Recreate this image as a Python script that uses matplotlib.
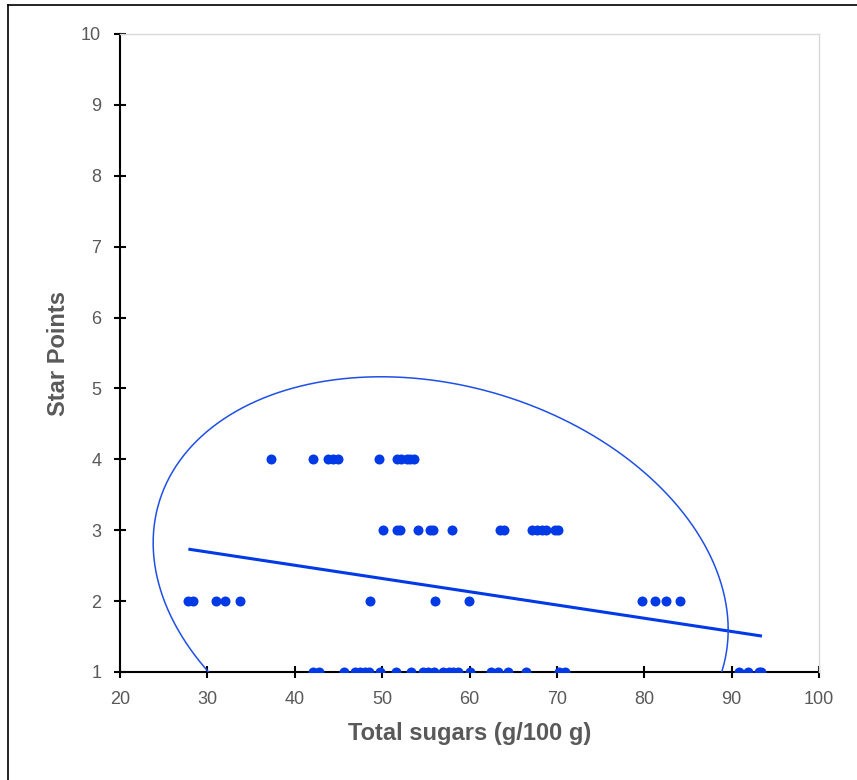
import numpy as np
import matplotlib.pyplot as plt
from matplotlib.lines import Line2D

# star points vs total sugars
sugars_4 = [37.3, 42.1, 43.8, 44.4, 44.9, 49.6, 51.7, 52.2, 52.8, 53.2, 53.6]
sugars_3 = [50.1, 51.7, 52.1, 54.1, 55.5, 55.8, 58.0, 63.5, 63.9,
            67.2, 67.7, 68.3, 68.8, 69.8, 70.1]
sugars_2 = [27.8, 28.4, 31.0, 32.0, 33.7, 48.6, 56.0, 59.9, 79.7, 81.2, 82.5, 84.1]
sugars_1 = [42.1, 42.8, 45.6, 46.9, 47.5, 48.0, 48.5, 49.7, 51.6, 53.3,
            54.7, 55.3, 55.9, 57.0, 57.6, 58.1, 58.7, 60.1, 62.5, 63.3,
            64.4, 66.5, 70.2, 70.9, 90.8, 91.9, 93.1, 93.4]

x = np.array(sugars_4 + sugars_3 + sugars_2 + sugars_1)
y = np.array([4] * len(sugars_4) + [3] * len(sugars_3) +
             [2] * len(sugars_2) + [1] * len(sugars_1))

# trendline endpoints
trend_x = [28.0, 93.3]
trend_y = [2.73, 1.51]

# hand drawn ellipse (centre and shape matrix, data units)
ell_center = (56.7, 2.21)
ell_cov = np.array([[1082.7, -20.19], [-20.19, 8.73]])

blue = '#0039E6'
gray = '#595959'

fig = plt.figure(figsize=(8.57, 7.80), dpi=100)
ax = fig.add_axes([120 / 857, 1 - 672 / 780, 699 / 857, 638 / 780])

ax.plot(x, y, 'o', color=blue, markersize=7.2, markeredgewidth=0, zorder=3)
ax.plot(trend_x, trend_y, color=blue, lw=2.2, zorder=2)

t = np.linspace(0, 2 * np.pi, 400)
L = np.linalg.cholesky(ell_cov)
pts = L @ np.vstack([np.cos(t), np.sin(t)])
ax.plot(pts[0] + ell_center[0], pts[1] + ell_center[1], color='#1F4FE6', lw=1.1, zorder=2)

ax.set_xlim(20, 100)
ax.set_ylim(1, 10)
ax.set_xticks(range(20, 101, 10))
ax.set_yticks(range(1, 11))

for s in ['top', 'right']:
    ax.spines[s].set_color('#D9D9D9')
    ax.spines[s].set_linewidth(1.0)
for s in ['left', 'bottom']:
    ax.spines[s].set_color('black')
    ax.spines[s].set_linewidth(1.5)
    ax.spines[s].set_zorder(1)

ax.tick_params(direction='inout', length=9, width=1.5, color='black',
               labelsize=13, labelcolor=gray)
ax.tick_params(axis='x', pad=9)
ax.tick_params(axis='y', pad=9)
for lab in ax.get_xticklabels() + ax.get_yticklabels():
    lab.set_family('Liberation Sans')

ax.set_xlabel('Total sugars (g/100 g)', fontsize=17, fontweight='bold', color=gray,
              family='Liberation Sans', labelpad=10)
ax.set_ylabel('Star Points', fontsize=17, fontweight='bold', color=gray,
              family='Liberation Sans', labelpad=8)

# chart frame, only its left and top edges are in view
fig.add_artist(Line2D([8 / 857, 8 / 857], [0, 1 - 5 / 780], color='black', lw=1.2))
fig.add_artist(Line2D([8 / 857, 1], [1 - 5 / 780, 1 - 5 / 780], color='black', lw=1.2))

fig.savefig('out.png', dpi=100)
